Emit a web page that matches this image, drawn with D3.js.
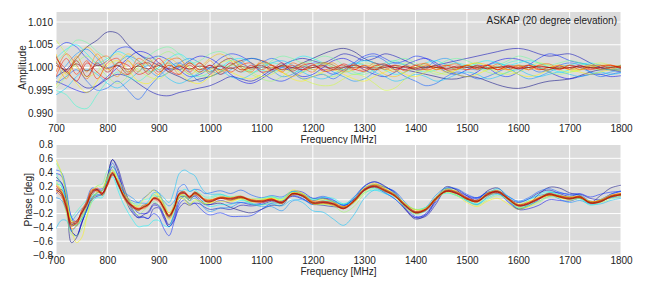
<!DOCTYPE html>
<html><head><meta charset="utf-8">
<script src="https://cdn.jsdelivr.net/npm/d3@7"></script>
<style>body{margin:0;background:#fff} text{font-family:"Liberation Sans",Arial,sans-serif}</style>
</head><body><svg id="chart" width="651" height="295"></svg>
<script>
const freqTicks = [700,800,900,1000,1100,1200,1300,1400,1500,1600,1700,1800];
const ampTicks = [0.990,0.995,1.000,1.005,1.010];
const phaseTicks = [-0.8,-0.6,-0.4,-0.2,0.0,0.2,0.4,0.6,0.8];
const freqAmp = [700,720,740,760,780,800,820,840,860,880,900,920,940,960,980,1000,1020,1040,1060,1080,1100,1120,1140,1160,1180,1200,1220,1240,1260,1280,1300,1320,1340,1360,1380,1400,1420,1440,1460,1480,1500,1520,1540,1560,1580,1600,1620,1640,1660,1680,1700,1720,1740,1760,1780,1800];
const freqPhase = [700,710,720,730,740,750,760,770,780,790,800,810,820,830,840,850,860,870,880,890,900,910,920,930,940,950,960,970,980,990,1000,
1020,1040,1060,1080,1100,1120,1140,1160,1180,1200,1220,1240,1260,1280,1300,1320,1340,1360,1380,1400,1420,1440,1460,1480,1500,1520,1540,1560,1580,1600,1620,1640,1660,1680,1700,1720,1740,1760,1780,1800];

const amp0 = [0.9980,0.9995,1.0020,1.0045,1.0060,1.0078,1.0075,1.0050,1.0030,1.0015,1.0005,0.9990,0.9980,0.9970,0.9975,0.9980,0.9990,1.0005,1.0015,1.0020,1.0015,1.0005,0.9995,1.0000,1.0010,1.0020,1.0030,1.0038,1.0042,1.0035,1.0020,1.0010,1.0005,1.0000,0.9995,0.9990,0.9985,0.9980,0.9975,0.9975,0.9980,0.9978,0.9970,0.9962,0.9956,0.9954,0.9958,0.9965,0.9970,0.9972,0.9975,0.9982,0.9990,0.9995,0.9995,0.9997];
const amp1 = [1.0010,0.9990,0.9970,0.9955,0.9960,0.9975,0.9985,0.9980,0.9965,0.9950,0.9940,0.9938,0.9945,0.9950,0.9955,0.9960,0.9970,0.9980,0.9975,0.9970,0.9980,0.9995,1.0005,1.0015,1.0020,1.0015,1.0010,1.0020,1.0030,1.0025,1.0015,1.0020,1.0030,1.0025,1.0015,1.0005,1.0000,1.0005,1.0010,1.0015,1.0020,1.0025,1.0030,1.0035,1.0040,1.0042,1.0038,1.0030,1.0025,1.0028,1.0030,1.0022,1.0010,1.0000,0.9995,0.9992];
const amp2 = [0.9970,0.9960,0.9950,0.9945,0.9960,0.9980,1.0000,1.0020,1.0035,1.0030,1.0010,0.9995,1.0000,1.0015,1.0025,1.0020,1.0005,0.9985,0.9970,0.9965,0.9975,0.9990,1.0000,0.9990,0.9980,0.9985,1.0000,1.0015,1.0020,1.0010,0.9995,0.9985,0.9980,0.9990,1.0005,1.0015,1.0020,1.0010,0.9995,0.9985,0.9980,0.9990,1.0005,1.0015,1.0020,1.0018,1.0010,1.0000,0.9990,0.9980,0.9975,0.9980,0.9985,0.9985,0.9980,0.9982];
const amp3 = [1.0040,1.0055,1.0045,1.0020,1.0005,1.0015,1.0040,1.0045,1.0030,1.0020,1.0025,1.0015,0.9995,0.9980,0.9985,1.0000,1.0020,1.0030,1.0025,1.0010,0.9990,0.9975,0.9970,0.9980,0.9995,1.0005,0.9995,0.9985,0.9995,1.0010,1.0025,1.0030,1.0020,1.0010,1.0015,1.0025,1.0020,1.0005,0.9990,0.9985,0.9995,1.0005,1.0000,0.9985,0.9980,0.9990,1.0005,1.0020,1.0030,1.0025,1.0015,1.0010,1.0005,1.0000,0.9995,0.9990];
const amp4 = [0.9965,0.9980,0.9995,0.9970,0.9950,0.9955,0.9970,0.9950,0.9930,0.9955,0.9980,1.0000,1.0010,0.9990,0.9970,0.9985,1.0010,1.0020,1.0010,1.0000,1.0010,1.0020,1.0010,0.9990,0.9975,0.9980,0.9985,0.9975,0.9990,1.0005,1.0020,1.0025,1.0015,0.9995,0.9980,0.9970,0.9960,0.9965,0.9980,0.9990,0.9985,0.9975,0.9980,0.9990,1.0000,1.0005,1.0000,0.9990,0.9995,1.0005,1.0010,1.0005,0.9990,0.9980,0.9985,0.9990];
const amp5 = [0.9975,1.0005,1.0030,1.0040,1.0020,1.0000,1.0010,1.0025,1.0015,0.9995,0.9980,0.9990,1.0010,1.0020,1.0010,0.9995,0.9985,0.9995,1.0010,1.0020,1.0015,0.9995,0.9980,0.9985,1.0000,1.0010,1.0005,0.9990,0.9980,0.9970,0.9975,0.9990,1.0005,1.0010,1.0005,0.9995,1.0000,1.0015,1.0020,1.0010,1.0000,0.9995,1.0005,1.0010,1.0000,0.9985,0.9975,0.9980,0.9990,1.0000,1.0005,1.0000,0.9990,0.9985,0.9990,0.9995];
const amp6 = [0.9940,0.9955,0.9980,0.9995,0.9985,0.9965,0.9955,0.9970,0.9990,1.0005,0.9995,0.9975,0.9965,0.9975,0.9990,1.0000,0.9995,0.9980,0.9975,0.9985,1.0000,1.0010,1.0015,1.0005,0.9990,0.9980,0.9975,0.9985,1.0000,1.0010,1.0005,0.9990,0.9980,0.9970,0.9975,0.9985,0.9980,0.9970,0.9975,0.9985,0.9990,0.9985,0.9975,0.9980,0.9990,0.9995,0.9985,0.9980,0.9985,0.9990,0.9985,0.9980,0.9985,0.9990,0.9985,0.9988];
const amp7 = [1.0020,1.0040,1.0050,1.0030,1.0010,1.0020,1.0035,1.0025,1.0005,0.9990,1.0000,1.0020,1.0030,1.0015,1.0000,0.9990,1.0000,1.0015,1.0020,1.0010,0.9995,0.9990,1.0000,1.0015,1.0025,1.0020,1.0010,1.0000,0.9995,1.0005,1.0015,1.0010,0.9995,0.9985,0.9990,1.0000,1.0010,1.0015,1.0005,0.9995,1.0000,1.0010,1.0015,1.0010,1.0005,1.0010,1.0015,1.0010,1.0000,0.9990,0.9995,1.0005,1.0010,1.0005,1.0000,1.0005];
const amp8 = [0.9950,0.9940,0.9915,0.9910,0.9940,0.9970,0.9990,0.9980,0.9970,0.9985,1.0000,1.0010,1.0000,0.9985,0.9980,0.9990,1.0005,1.0000,0.9990,0.9995,1.0005,1.0010,1.0005,0.9995,0.9990,1.0000,1.0010,1.0005,0.9995,0.9985,0.9990,1.0000,1.0010,1.0015,1.0005,0.9995,0.9990,0.9995,1.0005,1.0010,1.0005,1.0000,0.9995,1.0000,1.0010,1.0015,1.0010,1.0000,0.9995,1.0000,1.0005,1.0010,1.0005,1.0000,0.9995,1.0000];
const amp9 = [1.0010,1.0035,1.0060,1.0055,1.0035,1.0020,1.0005,0.9990,1.0005,1.0025,1.0040,1.0045,1.0030,1.0010,1.0015,1.0030,1.0035,1.0025,1.0005,0.9990,0.9995,1.0015,1.0025,1.0020,1.0010,1.0015,1.0025,1.0020,1.0005,0.9990,0.9985,0.9995,1.0005,1.0015,1.0020,1.0010,1.0000,1.0005,1.0015,1.0020,1.0015,1.0005,1.0000,1.0005,1.0015,1.0025,1.0020,1.0010,1.0005,1.0010,1.0015,1.0010,1.0000,0.9995,1.0000,1.0005];
const amp10 = [0.9955,0.9980,1.0010,1.0025,1.0005,0.9980,0.9965,0.9980,1.0000,1.0010,1.0025,1.0035,1.0020,1.0000,0.9985,0.9980,0.9990,1.0005,1.0000,0.9985,0.9975,0.9970,0.9980,0.9995,1.0005,0.9995,0.9985,0.9980,0.9990,1.0000,1.0010,1.0005,0.9995,1.0000,1.0010,1.0005,0.9995,0.9985,0.9990,1.0000,1.0005,1.0000,0.9990,0.9985,0.9990,1.0000,1.0005,1.0000,0.9990,0.9985,0.9990,0.9995,1.0000,1.0005,1.0000,0.9995];
const amp11 = [1.0060,1.0030,1.0000,0.9980,0.9990,1.0015,1.0030,1.0015,0.9995,0.9980,0.9975,0.9990,1.0005,1.0000,0.9990,0.9995,1.0010,1.0015,1.0005,0.9990,0.9980,0.9985,0.9995,0.9990,0.9975,0.9965,0.9960,0.9962,0.9975,0.9985,0.9980,0.9965,0.9950,0.9955,0.9975,0.9990,0.9995,0.9990,0.9985,0.9995,1.0005,1.0010,1.0000,0.9990,0.9985,0.9990,1.0000,1.0010,1.0005,0.9995,0.9990,0.9995,1.0005,1.0010,1.0005,1.0000];
const amp12 = [0.9960,0.9990,0.9965,0.9945,0.9970,1.0005,1.0015,0.9995,0.9970,0.9965,0.9985,1.0005,0.9990,0.9970,0.9965,0.9980,0.9995,0.9990,0.9980,0.9975,0.9985,1.0000,0.9990,0.9975,0.9970,0.9980,0.9990,0.9995,0.9985,0.9975,0.9970,0.9980,0.9990,0.9995,0.9985,0.9980,0.9990,1.0000,0.9995,0.9985,0.9980,0.9985,0.9995,1.0000,0.9995,0.9985,0.9980,0.9985,0.9995,1.0000,0.9995,0.9990,0.9985,0.9990,0.9995,0.9992];
const amp13 = [1.0030,0.9985,1.0020,1.0045,1.0025,0.9995,1.0010,1.0030,1.0015,0.9990,1.0005,1.0020,1.0005,0.9985,1.0000,1.0020,1.0030,1.0015,0.9995,1.0000,1.0010,1.0005,0.9990,0.9980,0.9990,1.0005,1.0010,1.0000,0.9990,0.9995,1.0005,1.0000,0.9985,0.9980,0.9990,1.0000,1.0005,1.0000,0.9990,0.9995,1.0005,1.0010,1.0005,0.9995,1.0000,1.0005,1.0000,0.9995,1.0000,1.0005,1.0000,0.9995,1.0000,1.0005,1.0005,1.0000];
const amp14 = [1.0015,0.9975,1.0025,0.9990,1.0030,1.0000,0.9980,1.0015,0.9990,1.0020,0.9995,1.0010,0.9985,1.0010,0.9995,1.0015,0.9990,1.0005,1.0015,0.9995,1.0010,0.9990,1.0005,0.9995,1.0010,0.9995,1.0005,1.0010,0.9995,1.0005,0.9990,1.0005,1.0000,0.9990,1.0005,1.0000,1.0010,0.9995,1.0005,0.9995,1.0005,0.9995,1.0005,1.0000,0.9995,1.0005,0.9995,1.0005,1.0000,1.0005,0.9995,1.0000,1.0005,0.9995,1.0000,1.0005];
const amp15 = [0.9990,1.0030,1.0005,0.9975,1.0015,1.0025,0.9995,0.9985,1.0020,1.0005,0.9985,1.0015,1.0020,0.9995,1.0010,0.9985,1.0010,1.0020,1.0000,0.9990,1.0015,1.0005,0.9990,1.0010,1.0000,0.9990,1.0010,1.0005,0.9992,1.0008,0.9995,1.0010,0.9995,1.0005,0.9992,1.0005,1.0008,0.9995,1.0003,1.0008,0.9995,1.0005,0.9997,1.0008,0.9995,1.0003,0.9995,1.0005,1.0008,0.9997,1.0005,0.9995,1.0003,1.0005,0.9997,1.0003];
const amp16 = [0.9980,1.0020,0.9985,1.0015,0.9975,1.0010,1.0020,0.9990,1.0010,0.9985,1.0010,0.9990,1.0005,0.9990,1.0010,0.9990,1.0005,0.9990,1.0005,1.0010,0.9995,1.0005,0.9995,1.0005,0.9995,1.0005,0.9995,1.0000,1.0005,0.9995,1.0005,0.9995,1.0005,1.0000,0.9995,1.0005,0.9995,1.0000,1.0005,1.0000,0.9995,1.0000,1.0005,0.9995,1.0005,1.0000,1.0005,0.9995,1.0000,0.9995,1.0005,1.0000,0.9995,1.0000,1.0005,1.0000];
const amp17 = [1.0020,0.9995,0.9970,1.0010,0.9990,0.9975,1.0010,1.0005,0.9985,0.9995,1.0020,0.9995,0.9985,1.0005,0.9990,1.0005,0.9985,1.0000,0.9990,1.0005,0.9990,0.9995,1.0010,0.9992,1.0005,1.0008,0.9992,0.9995,1.0008,0.9997,0.9992,1.0003,1.0008,0.9995,1.0003,0.9995,0.9997,1.0005,0.9995,0.9997,1.0005,0.9997,1.0005,0.9995,1.0003,0.9997,1.0005,0.9997,0.9995,1.0003,0.9997,1.0005,0.9997,1.0003,1.0005,0.9997];
const amp18 = [1.0025,0.9990,1.0015,0.9980,1.0010,0.9990,1.0005,0.9985,1.0005,1.0010,0.9990,1.0005,0.9995,1.0010,0.9995,1.0005,0.9995,1.0010,0.9995,1.0000,1.0005,0.9995,1.0005,1.0000,0.9995,1.0000,1.0005,0.9995,1.0000,1.0005,1.0000,0.9995,1.0000,1.0005,1.0000,0.9997,1.0003,1.0000,0.9997,1.0003,1.0000,1.0003,0.9997,1.0000,1.0003,0.9997,1.0000,1.0003,1.0000,0.9997,1.0000,1.0003,1.0000,0.9997,1.0000,1.0003];
const amp19 = [1.0005,0.9995,1.0008,0.9993,1.0005,0.9998,1.0004,0.9996,1.0003,0.9997,1.0004,0.9998,1.0002,0.9997,1.0003,0.9999,1.0002,0.9998,1.0002,0.9999,1.0001,0.9999,1.0002,0.9999,1.0001,1.0000,1.0001,0.9999,1.0001,1.0000,1.0001,0.9999,1.0001,1.0000,1.0001,0.9999,1.0000,1.0001,0.9999,1.0000,1.0001,1.0000,0.9999,1.0001,1.0000,0.9999,1.0000,1.0001,1.0000,0.9999,1.0000,1.0001,1.0000,1.0000,1.0001,1.0000];

const ph0 = [.33,.25,.05,-.62,-.55,-.35,-.13,.02,.10,.13,.34,.58,.43,.16,-.08,-.20,-.26,-.22,-.17,-.06,-.08,-.22,-.36,-.22,.03,.05,-.01,.07,.01,-.06,-.07,
-.05,-.11,-.16,-.19,-.14,-.08,-.08,.08,.06,-.01,.02,-.03,-.12,.00,.19,.26,.20,.08,-.14,-.28,-.22,.00,.19,.14,.02,.00,.13,.17,.02,-.13,-.07,.08,.18,.17,.10,.06,-.04,.06,.17,.21];
const ph1 = [.08,.15,.00,-.45,-.52,-.33,-.15,.00,.05,.08,.32,.58,.47,.23,.02,-.15,-.24,-.25,-.27,-.13,-.12,-.27,-.39,-.30,-.12,-.05,-.08,-.05,-.06,-.11,-.14,
-.12,-.14,-.08,-.09,-.07,-.02,-.02,.05,.01,-.06,-.08,-.10,-.10,.01,.16,.22,.18,.11,-.12,-.26,-.24,-.06,.16,.15,.06,-.02,.06,.09,.02,-.04,.01,.10,.14,.09,.05,.08,.02,.00,.03,.08];
const ph2 = [.28,.25,.00,-.45,-.52,-.33,-.15,.02,.07,.08,.27,.48,.37,.18,.02,-.10,-.19,-.20,-.19,-.08,-.10,-.24,-.39,-.27,-.02,.05,.02,.05,-.02,-.07,-.07,
-.01,-.05,-.04,-.07,-.05,.00,-.02,.12,.11,.02,.03,-.01,-.08,.01,.14,.18,.10,.01,-.14,-.26,-.20,.00,.13,.12,.06,.03,.11,.12,-.01,-.14,-.13,-.08,.00,-.01,-.02,.02,-.04,.00,.08,.12];
const ph3 = [.38,.35,.10,-.25,-.37,-.28,-.10,.07,.15,.16,.27,.36,.25,.13,-.03,-.18,-.26,-.25,-.27,-.20,-.25,-.42,-.52,-.32,-.07,.00,-.06,-.05,-.12,-.19,-.22,
-.19,-.24,-.24,-.23,-.14,-.05,-.04,.06,.02,-.07,-.05,-.06,-.09,.03,.20,.26,.19,.10,-.08,-.24,-.22,-.03,.13,.10,.04,.02,.10,.10,-.03,-.14,-.09,.00,.10,.10,.08,.09,.04,.08,.11,.12];
const ph4 = [.43,.40,.15,-.25,-.32,-.23,.00,.17,.15,.13,.32,.53,.35,.13,.02,-.02,-.04,.02,.08,.14,.10,-.07,-.24,-.07,.18,.22,.12,.15,.14,.09,.10,
.13,.09,.14,.07,.03,.06,.04,.12,.08,.02,.05,.00,-.08,.00,.14,.22,.18,.12,-.04,-.18,-.16,.04,.17,.16,.08,.03,.10,.12,.05,-.02,.03,.12,.16,.11,.07,.07,-.02,-.02,.08,.13];
const ph5 = [.03,.00,-.15,-.30,-.22,-.13,-.10,.02,.10,.13,.32,.43,.25,.13,.07,.02,-.04,-.05,-.05,.02,.05,-.02,-.09,-.02,.13,.10,-.01,.02,-.04,-.13,-.17,
-.12,-.11,-.04,-.06,-.10,-.10,-.16,-.02,.00,-.07,-.03,-.03,-.07,.04,.18,.20,.11,.01,-.11,-.18,-.11,.07,.17,.10,-.01,-.07,.04,.12,.05,-.03,.01,.06,.08,.01,-.04,-.01,-.06,-.02,.03,.04];
const ph6 = [-.42,-.30,-.30,-.45,-.37,-.20,-.05,.04,.10,.13,.27,.38,.23,.08,-.01,-.10,-.16,-.10,-.02,.10,.10,.03,-.04,.13,.38,.43,.39,.35,.21,.11,.08,
.08,.03,.02,-.05,-.07,-.06,-.09,.00,-.04,-.16,-.18,-.28,-.37,-.22,.02,.14,.12,.08,-.08,-.20,-.14,.04,.13,.07,-.02,-.07,.08,.16,.05,-.08,-.07,-.02,.05,.05,.04,.02,-.06,-.06,-.01,.02];
const ph7 = [.23,.20,-.05,-.35,-.37,-.28,-.17,-.03,.03,.03,.22,.33,.15,-.04,-.18,-.30,-.39,-.38,-.37,-.30,-.30,-.37,-.39,-.17,.08,.15,.12,.15,.06,-.06,-.10,
-.07,-.07,-.01,-.03,.00,.04,.02,.12,.08,.00,.03,.02,-.06,-.02,.10,.14,.09,.04,-.06,-.14,-.11,.02,.10,.06,.00,-.06,.02,.08,.00,-.08,-.01,.08,.12,.07,.02,.02,-.04,.00,.05,.06];
const ph8 = [.38,.22,-.05,-.25,-.17,-.08,.00,.07,.07,.06,.27,.38,.20,.06,-.01,-.05,-.06,.00,.01,.07,.02,-.12,-.26,-.12,.05,.05,.02,.10,.09,.04,.04,
.08,.04,.04,.01,.02,.05,-.01,.08,.04,-.04,-.01,-.02,-.06,.02,.14,.17,.12,.06,-.06,-.14,-.11,.02,.10,.06,.00,-.02,.10,.12,.00,-.11,-.07,.02,.10,.05,.00,.01,-.08,-.04,.05,.06];
const ph9 = [.53,.40,.10,-.30,-.37,-.28,-.10,.10,.20,.23,.42,.48,.30,.10,-.03,-.08,-.09,-.08,-.07,-.03,-.08,-.17,-.24,-.09,.08,.07,.04,.12,.06,.01,.02,
.06,.01,.01,-.06,-.08,-.04,-.06,.08,.09,.01,.01,-.04,-.12,-.05,.12,.20,.16,.06,-.10,-.21,-.16,.02,.15,.10,.00,-.02,.10,.14,.00,-.12,-.08,.02,.11,.07,.02,.04,-.02,-.02,.03,.08];
const ph10 = [.28,.10,-.20,-.50,-.52,-.43,-.25,-.03,.10,.13,.32,.43,.25,.06,-.08,-.15,-.22,-.16,-.09,.04,.05,-.04,-.19,-.12,.03,.02,-.06,-.02,-.02,-.05,-.04,
.03,.04,.06,-.01,.00,.04,.01,.11,.06,-.06,-.07,-.09,-.18,-.10,.08,.17,.14,.09,-.06,-.18,-.12,.04,.13,.08,-.01,-.08,.00,.06,.00,-.11,-.10,-.04,.04,.03,.02,.06,-.04,-.04,.01,.05];
const ph11 = [.13,.10,-.02,-.30,-.37,-.26,-.10,.12,.20,.18,.30,.40,.25,.10,.02,-.05,-.12,-.10,-.05,.07,.08,-.07,-.22,-.07,.08,.05,-.01,.08,.06,-.01,.00,
.03,-.01,.01,-.03,-.02,.02,-.01,.10,.06,-.06,-.06,-.08,-.12,.00,.17,.22,.14,.04,-.11,-.20,-.14,.04,.16,.12,.02,-.04,.05,.10,.02,-.06,-.02,.04,.08,.03,-.01,.02,-.04,.00,.07,.08];
const ph12 = [.58,.40,.05,-.40,-.62,-.55,-.25,.02,.10,.13,.34,.43,.30,.18,.02,-.08,-.09,.00,.08,.14,.05,-.14,-.29,-.15,.02,.00,-.08,.00,-.02,-.06,-.05,
-.02,-.03,.02,.01,.01,.02,.00,.14,.09,-.04,-.05,-.06,-.10,-.04,.10,.22,.18,.06,-.06,-.14,-.12,.00,.11,.06,-.04,-.10,-.02,.02,-.06,-.14,-.10,-.02,.06,.05,.04,.04,-.02,-.02,.05,.10];
const ph13 = [.23,.15,-.10,-.30,-.32,-.23,-.05,.07,.13,.08,.25,.40,.25,.11,-.01,-.10,-.16,-.10,-.05,.02,.02,-.08,-.19,-.10,.06,.06,.02,.10,.08,-.01,-.04,
.03,.03,.04,-.03,-.02,.02,-.04,.10,.09,-.02,.01,-.03,-.10,-.02,.16,.24,.16,.06,-.06,-.15,-.14,.00,.13,.12,.02,-.02,.10,.12,.00,-.08,-.03,.02,.06,.05,.04,.04,-.04,.00,.05,.06];
const ph14 = [.21,.13,-.07,-.37,-.35,-.16,-.03,.14,.16,.06,.20,.36,.27,.10,-.02,-.11,-.15,-.12,-.06,.03,.01,-.10,-.22,-.13,.06,.11,.05,.09,.05,.00,-.01,
.04,.02,.03,.00,-.01,.01,-.03,.07,.07,-.03,-.02,-.05,-.10,-.03,.13,.21,.15,.07,-.07,-.17,-.15,.01,.14,.11,.03,-.01,.07,.13,.03,-.07,-.04,.03,.07,.06,.03,.03,-.03,-.01,.06,.09];
const ph15 = [.12,.05,-.15,-.42,-.38,-.15,-.02,.15,.12,.10,.20,.35,.28,.05,-.06,-.12,-.12,-.13,-.08,.00,-.03,-.15,-.27,-.14,.10,.12,.05,.08,.04,.01,.00,
.02,-.01,.03,.00,-.04,-.01,-.05,.07,.05,-.06,-.05,-.08,-.13,-.03,.13,.19,.12,.05,-.09,-.19,-.15,.01,.12,.09,.01,-.03,.07,.11,.01,-.09,-.06,.01,.07,.04,.01,.03,-.05,-.03,.04,.07];
const ph16 = [.20,.12,-.05,-.33,-.30,-.20,-.08,.10,.17,.10,.24,.40,.23,.09,-.02,-.09,-.13,-.08,-.06,.03,.01,-.11,-.22,-.11,.07,.09,.05,.11,.07,.00,-.01,
.04,.02,.05,.00,-.01,.01,-.03,.09,.07,-.03,-.02,-.05,-.11,-.01,.15,.21,.15,.07,-.07,-.17,-.13,.03,.14,.11,.03,-.01,.09,.13,.03,-.07,-.04,.03,.09,.06,.03,.05,-.03,-.01,.06,.09];
const ph17 = [.14,.09,-.11,-.34,-.34,-.19,-.07,.10,.14,.09,.24,.39,.23,.07,-.05,-.09,-.13,-.11,-.08,.02,-.01,-.11,-.23,-.11,.09,.09,.03,.11,.05,-.02,-.03,
.02,.02,.05,-.02,-.03,.01,-.05,.09,.05,-.05,-.04,-.06,-.13,-.01,.15,.19,.13,.05,-.09,-.19,-.13,.03,.12,.09,.01,-.03,.09,.11,.01,-.09,-.06,.01,.09,.04,.01,.05,-.05,-.03,.04,.07];
const ph18 = [.15,.08,-.12,-.38,-.33,-.17,-.04,.13,.14,.07,.21,.37,.26,.07,-.04,-.11,-.15,-.11,-.07,.01,-.01,-.13,-.25,-.13,.09,.11,.03,.09,.05,-.02,-.03,
.02,.00,.03,-.02,-.03,-.01,-.05,.09,.05,-.05,-.04,-.07,-.13,-.03,.13,.19,.13,.05,-.09,-.19,-.15,.01,.12,.09,.01,-.03,.07,.11,.01,-.09,-.06,.01,.07,.04,.01,.03,-.05,-.03,.04,.07];
const ph19 = [.17,.11,-.09,-.36,-.31,-.19,-.06,.11,.15,.09,.23,.38,.24,.08,-.03,-.10,-.14,-.10,-.07,.02,.00,-.12,-.24,-.12,.08,.10,.04,.10,.06,-.01,-.02,
.03,.01,.04,-.01,-.02,.00,-.04,.08,.06,-.04,-.03,-.06,-.12,-.02,.14,.20,.14,.06,-.08,-.18,-.14,.02,.13,.10,.02,-.02,.08,.12,.02,-.08,-.05,.02,.08,.05,.02,.04,-.04,-.02,.05,.08];

const amplitude = [amp0,amp1,amp2,amp3,amp4,amp5,amp6,amp7,amp8,amp9,amp10,amp11,amp12,amp13,amp14,amp15,amp16,amp17,amp18,amp19];
const phase = [ph0,ph1,ph2,ph3,ph4,ph5,ph6,ph7,ph8,ph9,ph10,ph11,ph12,ph13,ph14,ph15,ph16,ph17,ph18,ph19];

function jet(t){
  const c = v => Math.max(0, Math.min(1, v));
  const r = c(1.5 - Math.abs(4*t-3)), g = c(1.5 - Math.abs(4*t-2)), b = c(1.5 - Math.abs(4*t-1));
  return d3.rgb(r*255, g*255, b*255).formatHex();
}

const svg = d3.select('#chart');
const x = d3.scaleLinear().domain([700,1800]).range([56,621]);
const font = '"Liberation Sans", Arial, sans-serif';

const panels = [
  {id:'a', y: d3.scaleLinear().domain([0.9878,1.0122]).range([123,12]), ticks: ampTicks, fmt: d3.format('.3f'),
   series: amplitude, freqs: freqAmp, label:'Amplitude', lx:22, xlabBase:142.5},
  {id:'p', y: d3.scaleLinear().domain([-0.8,0.8]).range([255,144.5]), ticks: phaseTicks, fmt: d3.format('.1f'),
   series: phase, freqs: freqPhase, label:'Phase [deg]', lx:28, xlabBase:275}
];

panels.forEach(p => {
  const g = svg.append('g');
  const [yb, yt] = p.y.range();
  const x0 = x.range()[0], x1 = x.range()[1];
  g.append('rect').attr('x', x0).attr('y', yt).attr('width', x1 - x0).attr('height', yb - yt).attr('fill', '#dcdcdc');
  svg.append('clipPath').attr('id', 'clip-' + p.id).append('rect')
    .attr('x', x0).attr('y', yt).attr('width', x1 - x0).attr('height', yb - yt);
  g.append('g').selectAll('line').data(freqTicks).join('line')
    .attr('x1', d => x(d)).attr('x2', d => x(d)).attr('y1', yt).attr('y2', yb)
    .attr('stroke', '#fff').attr('stroke-width', 1);
  g.append('g').selectAll('line').data(p.ticks).join('line')
    .attr('x1', x0).attr('x2', x1).attr('y1', d => p.y(d)).attr('y2', d => p.y(d))
    .attr('stroke', '#fff').attr('stroke-width', 1);
  const n = p.series.length;
  const line = d3.line().x((d, i) => x(p.freqs[i])).y(d => p.y(d)).curve(d3.curveCatmullRom);
  g.append('g').attr('clip-path', `url(#clip-${p.id})`).selectAll('path').data(p.series).join('path')
    .attr('d', line).attr('fill', 'none')
    .attr('stroke', (d, i) => jet(i / (n - 1)))
    .attr('stroke-width', 0.7).attr('stroke-opacity', 0.75);
  const xa = d3.axisBottom(x).tickValues(freqTicks).tickSize(0).tickPadding(2).tickFormat(d3.format('d'));
  g.append('g').attr('transform', `translate(0,${yb})`).call(xa)
    .call(s => s.select('.domain').remove())
    .call(s => s.selectAll('text').attr('font-size', 10).attr('fill', '#222').style('font-family', font));
  const ya = d3.axisLeft(p.y).tickValues(p.ticks).tickSize(0).tickPadding(3).tickFormat(p.fmt);
  g.append('g').attr('transform', `translate(${x0},0)`).call(ya)
    .call(s => s.select('.domain').remove())
    .call(s => s.selectAll('text').attr('font-size', 10).attr('fill', '#222').style('font-family', font));
  g.append('text').attr('transform', `translate(${p.lx},${(yb + yt) / 2}) rotate(-90)`)
    .attr('text-anchor', 'middle').attr('dominant-baseline', 'central')
    .attr('font-size', 10).attr('fill', '#222').text(p.label);
  g.append('text').attr('x', (x0 + x1) / 2).attr('y', p.xlabBase).attr('text-anchor', 'middle')
    .attr('font-size', 10).attr('fill', '#222').text('Frequency [MHz]');
});

svg.append('text').attr('x', 617).attr('y', 24.3).attr('text-anchor', 'end')
  .attr('font-size', 10).attr('fill', '#222').text('ASKAP (20 degree elevation)');
</script></body></html>
